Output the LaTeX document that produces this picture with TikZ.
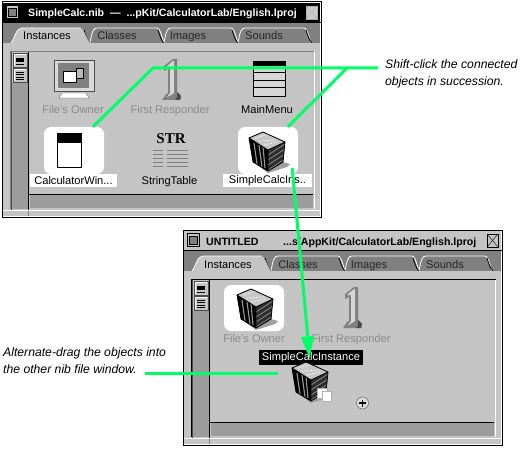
\documentclass[tikz,border=0pt]{standalone}
\usepackage{fontspec}
\setmainfont{Liberation Sans}
\newfontfamily\strfont{Liberation Serif}
\definecolor{panelgray}{HTML}{C4C4C4}
\definecolor{bandgray}{HTML}{808080}
\definecolor{dither}{HTML}{9C9C9C}
\definecolor{dimtext}{HTML}{8A8A8A}
\definecolor{callgreen}{HTML}{00FF66}
\tikzset{
  x=1pt,y=-1pt,
  lbl/.style={inner sep=0pt,anchor=base,font=\fontsize{11.1}{12}\selectfont,text=black},
  dimlbl/.style={lbl,text=dimtext},
  taglbl/.style={inner sep=0pt,font=\fontsize{11.1}{12}\selectfont,text=black,fill=white,minimum height=13pt},
  tablbl/.style={lbl,text=#1},
  titlelbl/.style={inner sep=0pt,anchor=base west,font=\fontsize{10.6}{12}\selectfont\bfseries},
  callout/.style={inner sep=0pt,align=left,font=\fontsize{12.2}{17}\selectfont\itshape},
  greenline/.style={draw=callgreen,line width=3pt,line cap=butt,line join=miter},
  iconbox/.style={fill=white,rounded corners=7pt,minimum width=60pt,minimum height=47pt,inner sep=0pt},
  cube/.pic={
    \fill[gray!75] (-14,12)--(1,21)--(16,12)--(23,14)--(20,17)--(1,23)--cycle;
    \fill[black] (-18,-12)--(-4,-18)--(18,-8)--(16,12)--(1,21)--(-14,12)--cycle;
    \fill[gray!45] (-18,-12)--(-4,-18)--(18,-8)--(1,0)--cycle;
    \draw[white,line width=.8pt,densely dotted] (-12,-12)--(2,-16) (-8,-9)--(9,-10) (-3,-5)--(11,-8);
    \draw[gray!80,line width=1.1pt] (-13,-7)--(-10,14) (-8,-5)--(-5,17) (-4,-3)--(-2,18);
    \begin{scope}
      \clip (1,0)--(18,-8)--(16,12)--(1,21)--cycle;
      \fill[black!82] (1,-8) rectangle (18,21);
      \foreach \d in {-8,-3,...,27}{\draw[gray!85,line width=.7pt] (1,\d+3)--(18,\d-8);}
    \end{scope}
    \draw[black,line width=.8pt] (-18,-12)--(-4,-18)--(18,-8)--(16,12)--(1,21)--(-14,12)--cycle (1,0)--(1,21) (-18,-12)--(1,0)--(18,-8);
  },
  bignumeral/.pic={
    \fill[bandgray] (2,7)--(11,0)--(15,0)--(15,33)--(19,37)--(18,41)--(0,41)--(4,35)--(6,34)--(6,10)--(2,12)--cycle;
    \fill[panelgray!70] (4,8)--(11,2)--(12,2)--(12,34)--(9,36)--(5,38)--(8,34)--(8,8)--cycle;
    \fill[black!70] (15,33)--(19,37)--(18,41)--(13,41)--(15,38)--cycle;
  }
}
\newcommand{\winchrome}[5]{% prefix, bar fill, line colour, close-box fill, icon outline and cross colour
  \fill[white] (2,2) rectangle (321,217);
  \fill[panelgray] (3,3) rectangle (320,216);
  \fill[#2] (3,3) rectangle (320,22);
  \fill[panelgray] (6,5) rectangle (19,19);
  \draw[black] (6.5,5.5) rectangle (18.5,18.5);
  \fill[bandgray] (8,8) rectangle (16,16);
  \draw[black] (8,8) rectangle (16,16);
  \fill[#4] (306,6) rectangle (317,19);
  \draw[#5] (306,6) rectangle (317,19);
  \draw[#5] (306.5,6.5)--(316.5,18.5) (316.5,6.5)--(306.5,18.5);
  \draw[black] (2,22.5)--(321,22.5);
  \fill[bandgray] (3,23) rectangle (320,43);
  \draw[white,line width=.8pt] (90,43)..controls (92,32) and (93,28) .. (97,28)--(157,28)..controls (160,28) and (161,34) .. (164,43);
  \draw[white,line width=.8pt] (164,43)..controls (166,32) and (167,28) .. (171,28)--(231,28)..controls (234,28) and (235,34) .. (238,43);
  \draw[white,line width=.8pt] (238,43)..controls (240,32) and (241,28) .. (245,28)--(304,28)..controls (307,28) and (308,34) .. (311,43);
  \draw[black,line width=.8pt] (84,30)..controls (86,36) and (87,40) .. (90,43);
  \draw[black,line width=.8pt] (158,30)..controls (160,36) and (161,40) .. (164,43);
  \draw[black,line width=.8pt] (232,30)..controls (234,36) and (235,40) .. (238,43);
  \draw[black,line width=.8pt] (306,30)..controls (308,36) and (309,40) .. (312,43);
  \fill[panelgray] (11,43)..controls (15,38) and (16,28) .. (22,28)--(80,28)..controls (84,28) and (85,36) .. (90,43)--cycle;
  \draw[white,line width=.8pt] (11,43)..controls (15,38) and (16,28) .. (22,28)--(81,28);
  \node[tablbl=black] (#1inst) at (47,40) {Instances};
  \node[tablbl=black!85] (#1clas) at (117,40) {Classes};
  \node[tablbl=black!85] (#1imag) at (188,40) {Images};
  \node[tablbl=black!85] (#1soun) at (264,40) {Sounds};
  \fill[panelgray] (3,43) rectangle (320,209);
  \draw[#3] (10.5,209)--(10.5,51.5)--(314.5,51.5);
  \draw[white] (314.5,51.5)--(314.5,209);
  \fill[dither] (12,83) rectangle (28,209);
  \fill[dither] (30,195) rectangle (313,208);
  \draw[black] (28.5,52)--(28.5,210);
  \draw[black] (29,194.5)--(313,194.5);
  \draw[black!70] (11.5,52)--(11.5,210);
  \draw[white] (3,210.5)--(320,210.5);
  \draw[bandgray] (28.5,211)--(28.5,216);
  % scroller buttons
  \fill[panelgray] (13,53) rectangle (27,67);
  \draw[black!70] (13,53) rectangle (27,67);
  \draw[white] (14,66)--(14,54)--(26,54);
  \fill[black] (16,58) rectangle (24,62);
  \draw[black] (16,64.5)--(24,64.5);
  \fill[panelgray] (13,68) rectangle (27,82);
  \draw[black!70] (13,68) rectangle (27,82);
  \draw[white] (14,81)--(14,69)--(26,69);
  \foreach \yy in {72,74.5,77,79.5}{\draw[black,line width=.7pt] (16,\yy)--(24,\yy);}
  \draw[black,line width=1pt] (2,2) rectangle (321,217);
}
\begin{document}
\begin{tikzpicture}
\useasboundingbox (0,0) rectangle (524,449);
\fill[white] (0,0) rectangle (524,449);

%% ---------- upper window
\winchrome{a}{black}{bandgray}{gray!40}{gray!65}
\node[titlelbl,text=white] (atitle) at (28,17) {SimpleCalc.nib\ \ —\ \ ...pKit/CalculatorLab/English.lproj};

% monitor icon
\fill[gray!30] (54,60) rectangle (94,91);
\draw[black!70] (54,60) rectangle (94,91);
\fill[bandgray] (58,63) rectangle (89,88);
\fill[gray!55] (76,68) rectangle (83,78);
\draw[black] (76,68) rectangle (83,78);
\fill[white] (63,71) rectangle (76,82);
\draw[black] (63,71) rectangle (76,82);
\fill[white] (62,93)--(86,93)--(89,98)--(59,98)--cycle;
\draw[black!60] (62,93)--(86,93)--(89,98)--(59,98)--cycle;
\node[dimlbl] (aowner) at (73,114) {File's Owner};

\pic at (162,59) {bignumeral};
\node[dimlbl] (aresp) at (170,114) {First Responder};

% menu icon
\fill[panelgray!70] (253,61) rectangle (285,96);
\fill[black] (253,61) rectangle (285,66);
\draw[black] (253,61) rectangle (285,96) (253,72)--(285,72) (253,80)--(285,80) (253,87)--(285,87);
\node[lbl] (amain) at (267,114) {MainMenu};

% window instance
\node[iconbox] (calcbox) at (74,150.5) {};
\fill[white] (57.5,133.5) rectangle (81.5,167.5);
\fill[black] (57.5,133.5) rectangle (81.5,143);
\draw[black] (57.5,133.5) rectangle (81.5,167.5);
\node[taglbl,minimum width=87pt] (acalc) at (73.5,180.5) {CalculatorWin...};

% string table
\node[inner sep=0pt,font=\fontsize{15}{15}\selectfont\bfseries\strfont] (astr) at (171,139) {STR};
\foreach \yy in {150.5,154.5,158.5,162.5,166.5}{\draw[bandgray] (153,\yy)--(163,\yy) (167,\yy)--(188,\yy);}
\node[lbl] (astring) at (169.5,185) {StringTable};

% cube instance
\node[iconbox] (cubebox) at (268,150.5) {};
\pic at (267,150) {cube};
\node[taglbl,minimum width=89pt] (asimple) at (267.5,180.5) {SimpleCalcIns..};

%% ---------- lower window
\begin{scope}[shift={(181,228)}]
\winchrome{b}{panelgray}{black}{panelgray}{black}
\node[titlelbl] (btitle) at (25,17) {UNTITLED};
\node[titlelbl] (bpath) at (102,17) {...s/AppKit/CalculatorLab/English.lproj};
\node[iconbox,minimum height=46pt] (ownerbox) at (73,80) {};
\node[dimlbl] (bowner) at (73,114) {File's Owner};
\pic at (162,59) {bignumeral};
\node[dimlbl] (bresp) at (170,114) {First Responder};
\end{scope}
\pic at (255,307) {cube};

% dragged instance
\node[inner sep=0pt,fill=black,text=white,font=\fontsize{11.1}{12}\selectfont,minimum width=104pt,minimum height=15pt] (dragtag) at (311,357.5) {SimpleCalcInstance};
\pic at (310,380) {cube};
\fill[white] (317,388) rectangle (327,398);
\draw[gray!60] (317,388) rectangle (327,398);
\fill[white] (322,391) rectangle (331,401);
\draw[gray!60] (322,391) rectangle (331,401);
\node[circle,draw=black!70,fill=panelgray!60,minimum size=12pt,inner sep=0pt] (cursor) at (362.5,403) {};
\draw[black,line width=1.4pt] (359,403)--(366,403) (362.5,399.5)--(362.5,406.5);

%% ---------- callouts
\node[callout,anchor=north west] (shiftnote) at (385,59) {Shift-click the connected\\objects in succession.};
\node[callout,anchor=north west] (altnote) at (3,347) {Alternate-drag the objects into\\the other nib file window.};

\coordinate (elbow) at (153,68);
\coordinate (join) at (347,68);
\coordinate (shiftend) at (378,68);
\coordinate (altstart) at (145,373);
\coordinate (altend) at (278,373);
\coordinate (dragtip) at (309.5,358);
\coordinate (dragneck) at (307.8,337);

\draw[greenline] ([xshift=19pt]calcbox.north) -- (elbow) -- (shiftend);
\draw[greenline] ([xshift=20pt]cubebox.north) -- (join);
\draw[greenline] ([xshift=-6pt,yshift=6pt]cubebox.south east) -- (dragneck);
\fill[callgreen] (dragtip) -- (301,337) -- (314,336) -- cycle;
\draw[greenline] (altstart) -- (altend);
\end{tikzpicture}
\end{document}
